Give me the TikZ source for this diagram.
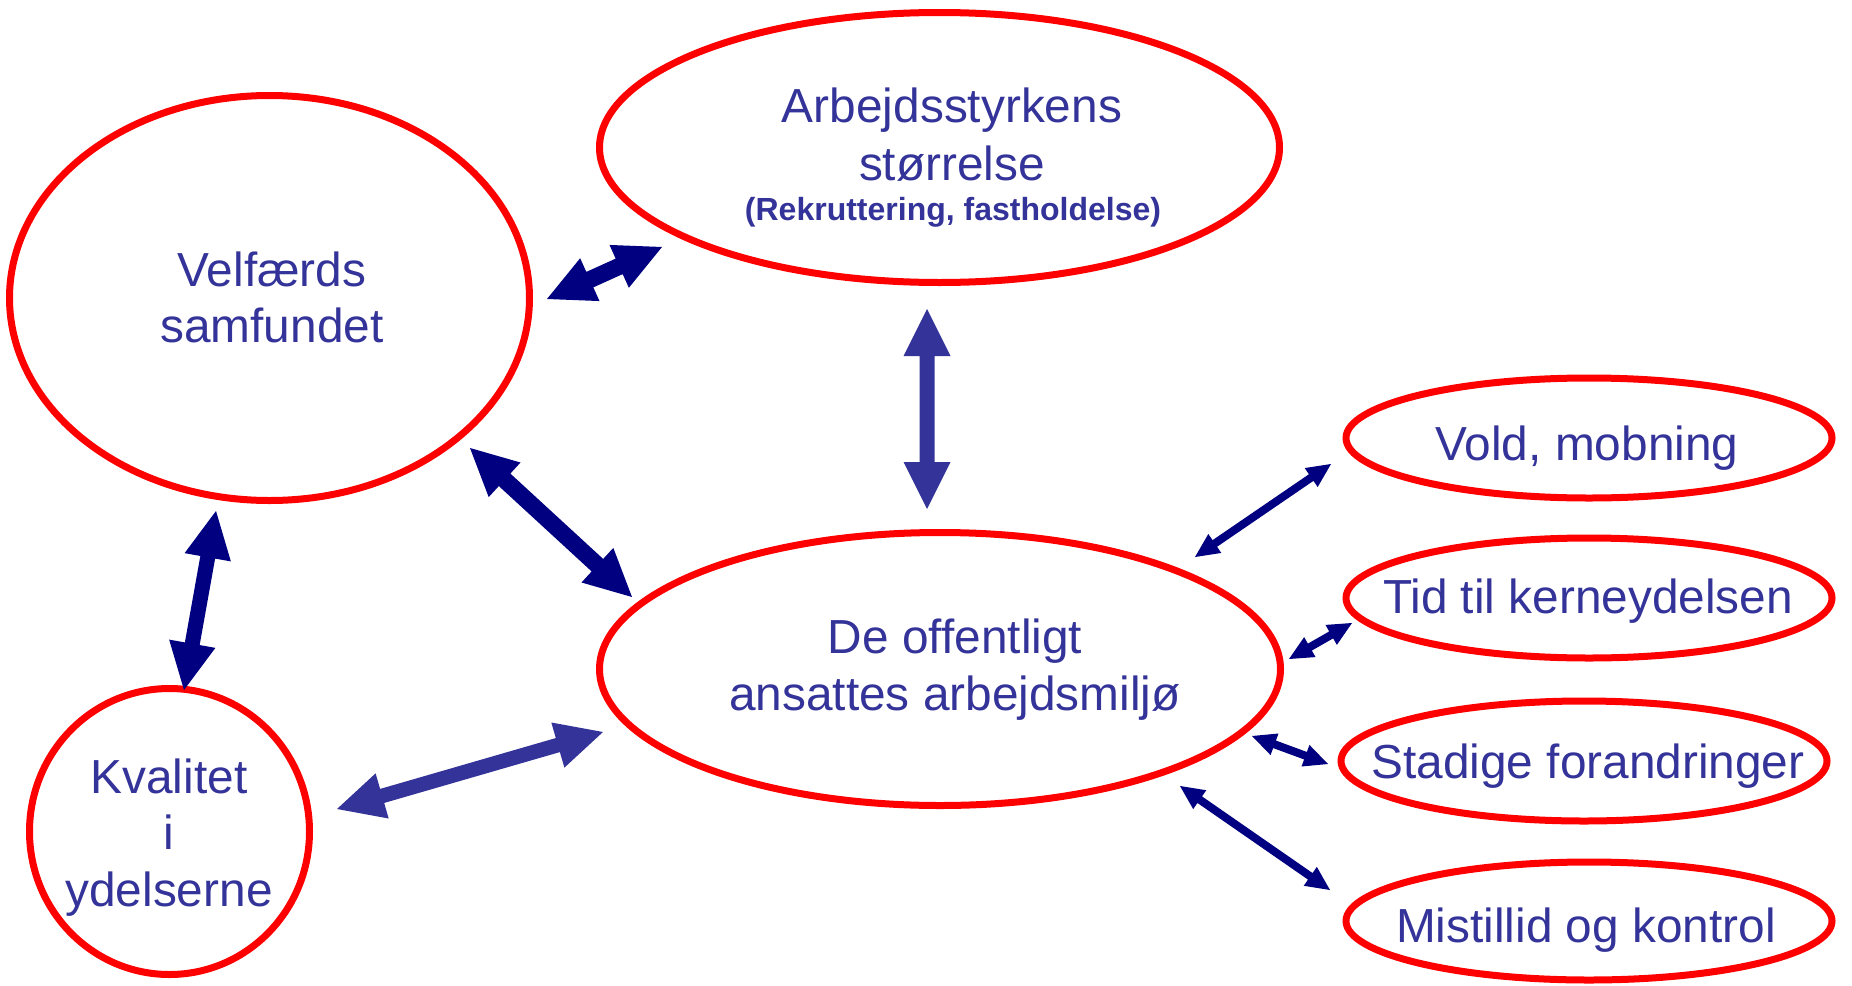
\documentclass[tikz,border=0pt]{standalone}
\usepackage{fontspec}
\setmainfont{Liberation Sans}
\usetikzlibrary{calc,shapes.geometric}
\definecolor{ringred}{HTML}{FF0000}
\definecolor{navy}{HTML}{000080}
\definecolor{inkblue}{HTML}{333399}

% filled block arrow with a head at both ends:
% #1 colour, #2 first end, #3 second end, #4 half shaft width,
% #5 head length, #6 half head width
\newcommand\twoheaded[6]{%
  \path ($(#2)!#5!(#3)$) coordinate (hA) ($(#3)!#5!(#2)$) coordinate (hB);
  \fill[#1] (#2) -- ($(hA)!#6!90:(#3)$) -- ($(hA)!#4!90:(#3)$)
    -- ($(hB)!#4!-90:(#2)$) -- ($(hB)!#6!-90:(#2)$) -- (#3)
    -- ($(hB)!#6!90:(#2)$) -- ($(hB)!#4!90:(#2)$)
    -- ($(hA)!#4!-90:(#3)$) -- ($(hA)!#6!-90:(#3)$) -- cycle;}

\tikzset{
  ring/.style={ellipse, draw=ringred, line width=7pt, inner sep=0pt},
  lbl/.style={text=inkblue, font=\fontsize{47.8}{57}\selectfont, align=center,
    inner sep=0pt, anchor=base},
  sublbl/.style={text=inkblue, font=\fontsize{32}{38}\selectfont\bfseries,
    inner sep=0pt, anchor=base}
}

\begin{document}
\begin{tikzpicture}[x=1pt, y=-1pt]
\useasboundingbox (0,0) rectangle (1852,985);

% ellipses
\node[ring, minimum width=520pt, minimum height=405pt] (velf) at (269.5,298) {};
\node[ring, minimum width=680pt, minimum height=270pt] (arb) at (939.5,147.5) {};
\node[ring, minimum width=681pt, minimum height=273pt] (off) at (940,669) {};
\node[ring, minimum width=280pt, minimum height=286pt] (kval) at (169.5,831.5) {};
\node[ring, minimum width=486pt, minimum height=120pt] (vold) at (1589,438) {};
\node[ring, minimum width=486pt, minimum height=120pt] (tid) at (1589,598) {};
\node[ring, minimum width=486pt, minimum height=120pt] (stad) at (1584,761) {};
\node[ring, minimum width=486pt, minimum height=118pt] (mist) at (1589,921) {};

% texts
\node[lbl] (velfT1) at (272,286) {Velfærds};
\node[lbl] (velfT2) at (272,342) {samfundet};
\node[lbl] (arbT1) at (952,122) {Arbejdsstyrkens};
\node[lbl] (arbT2) at (952,180) {størrelse};
\node[sublbl] (arbT3) at (953,220) {(Rekruttering, fastholdelse)};
\node[lbl] (offT1) at (955,653) {De offentligt};
\node[lbl] (offT2) at (955,710) {ansattes arbejdsmiljø};
\node[lbl] (kvalT1) at (169,793) {Kvalitet};
\node[lbl] (kvalT2) at (169,849) {i};
\node[lbl] (kvalT3) at (169,906) {ydelserne};
\node[lbl] (voldT) at (1587,460) {Vold, mobning};
\node[lbl] (tidT) at (1588,613) {Tid til kerneydelsen};
\node[lbl] (stadT) at (1588,778) {Stadige forandringer};
\node[lbl] (mistT) at (1586,942) {Mistillid og kontrol};

% arrow ends
\coordinate (velfArbA) at (547,299);  \coordinate (velfArbB) at (662,247);
\coordinate (arbOffA) at (927,309);   \coordinate (arbOffB) at (927,509);
\coordinate (velfOffA) at (470,448);  \coordinate (velfOffB) at (632,597);
\coordinate (kvalOffA) at (337,809);  \coordinate (kvalOffB) at (603,732);
\coordinate (velfKvalA) at (216,511); \coordinate (velfKvalB) at (184,690);
\coordinate (voldA) at (1331,464);    \coordinate (voldB) at (1195,557);
\coordinate (tidA) at (1352,623);     \coordinate (tidB) at (1289,659);
\coordinate (stadA) at (1252,736);    \coordinate (stadB) at (1328,764);
\coordinate (mistA) at (1180,786);    \coordinate (mistB) at (1330,890);

% large arrows
\twoheaded{navy}{velfArbA}{velfArbB}{8.5pt}{47pt}{23.5pt}
\twoheaded{inkblue}{arbOffA}{arbOffB}{7.5pt}{47pt}{23.5pt}
\twoheaded{navy}{velfOffA}{velfOffB}{8.5pt}{47pt}{23.5pt}
\twoheaded{inkblue}{kvalOffA}{kvalOffB}{7.3pt}{47pt}{23.5pt}
\twoheaded{navy}{velfKvalA}{velfKvalB}{7.5pt}{47pt}{23.5pt}

% small arrows
\twoheaded{navy}{voldA}{voldB}{4pt}{24pt}{11.5pt}
\twoheaded{navy}{tidA}{tidB}{4pt}{24pt}{11.5pt}
\twoheaded{navy}{stadA}{stadB}{4pt}{24pt}{11.5pt}
\twoheaded{navy}{mistA}{mistB}{4pt}{24pt}{11.5pt}
\end{tikzpicture}
\end{document}
